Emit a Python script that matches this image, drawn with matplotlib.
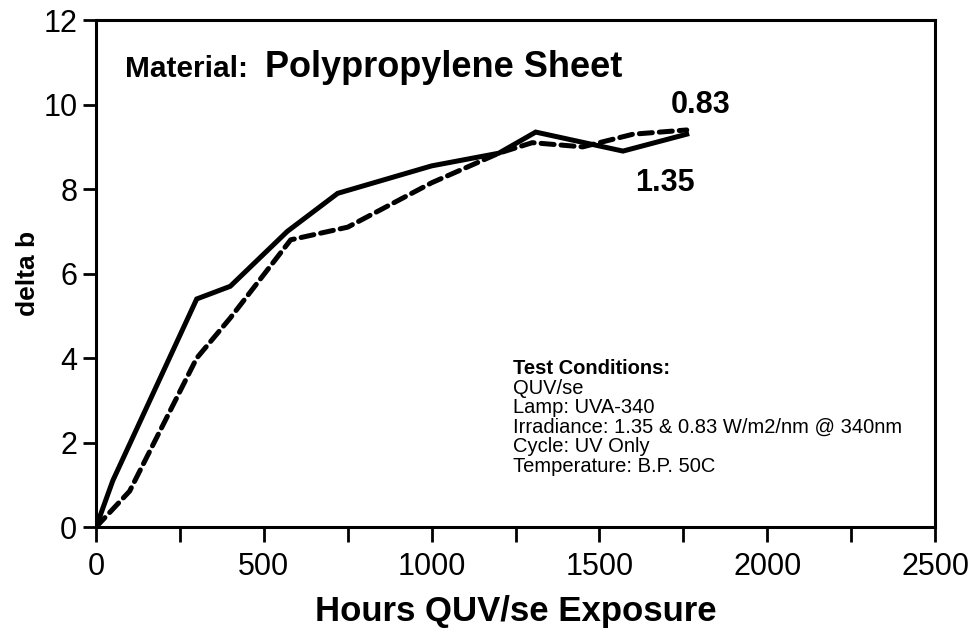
import matplotlib
matplotlib.use("Agg")
import matplotlib.pyplot as plt
from matplotlib.ticker import MultipleLocator, FixedLocator

plt.rcParams['font.family'] = ['Liberation Sans', 'DejaVu Sans']

# Data
hours_135 = [0, 50, 300, 400, 570, 720, 1000, 1200, 1310, 1570, 1760]
db_135 = [0, 1.1, 5.4, 5.7, 7.0, 7.9, 8.55, 8.85, 9.35, 8.9, 9.3]

hours_083 = [0, 100, 300, 400, 580, 750, 1000, 1200, 1300, 1450, 1600, 1760]
db_083 = [0, 0.85, 4.0, 4.95, 6.8, 7.1, 8.15, 8.85, 9.1, 9.0, 9.3, 9.4]

x_labels = [0, 500, 1000, 1500, 2000, 2500]
y_labels = [0, 2, 4, 6, 8, 10, 12]

conditions = ["Test Conditions:", "QUV/se", "Lamp: UVA-340",
              "Irradiance: 1.35 & 0.83 W/m2/nm @ 340nm",
              "Cycle: UV Only", "Temperature: B.P. 50C"]

fig = plt.figure(figsize=(9.7, 6.29), dpi=100)
ax = fig.add_axes([0.099, 0.162, 0.865, 0.806])

ax.plot(hours_135, db_135, color='black', lw=3.6, solid_joinstyle='miter')
ax.plot(hours_083, db_083, color='black', lw=3.6, dashes=(2.6, 1.4), dash_capstyle='round')

ax.set_xlim(0, 2500)
ax.set_ylim(0, 12)
ax.xaxis.set_major_locator(FixedLocator(x_labels))
ax.xaxis.set_minor_locator(MultipleLocator(250))
ax.yaxis.set_major_locator(FixedLocator(y_labels))
ax.set_xticklabels([str(v) for v in x_labels])
ax.set_yticklabels([str(v) for v in y_labels])

ax.tick_params(axis='x', which='both', direction='out', length=11, width=2, labelsize=22, pad=7)
ax.tick_params(axis='y', which='both', direction='out', length=9.5, width=2, labelsize=22, pad=4)
for s in ax.spines.values():
    s.set_linewidth(2.2)

ax.set_xlabel("Hours QUV/se Exposure", fontsize=25, fontweight='bold', labelpad=9)
ax.set_ylabel("delta b", fontsize=19, fontweight='bold', labelpad=2)

ax.text(0.034, 0.888, "Material:", transform=ax.transAxes, fontsize=21.5, fontweight='bold', va='baseline')
ax.text(0.201, 0.888, "Polypropylene Sheet", transform=ax.transAxes, fontsize=26, fontweight='bold', va='baseline')

ax.text(1890, 9.8, "0.83", fontsize=22, fontweight='bold', ha='right', va='baseline')
ax.text(1785, 7.95, "1.35", fontsize=22, fontweight='bold', ha='right', va='baseline')

y0 = 0.302
for i, line in enumerate(conditions):
    ax.text(0.497, y0 - i * 0.0385, line, transform=ax.transAxes, fontsize=14.5,
            fontweight='bold' if i == 0 else 'normal', va='baseline')

fig.savefig("out.png", dpi=100)
